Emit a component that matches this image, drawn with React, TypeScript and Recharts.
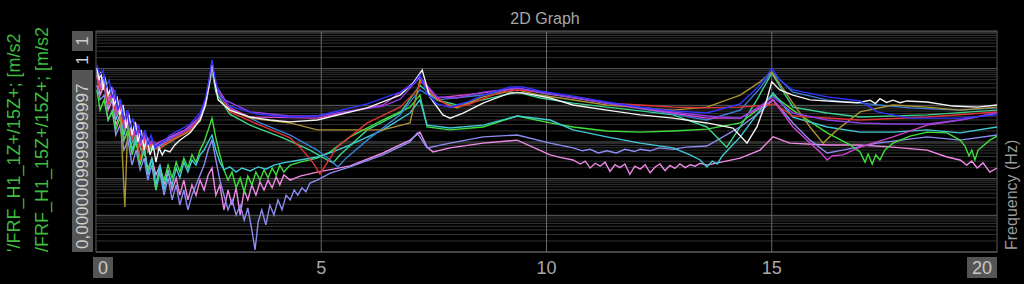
import { LineChart, Line, XAxis, YAxis, ReferenceLine } from 'recharts'

// each point: [frequency Hz, log10 of FRF magnitude]
type Pt = [number, number]

const white: Pt[] = [
  [0.02, -0.98], [0.07, -1.31], [0.11, -1.09], [0.16, -1.58], [0.2, -1.25], [0.27, -1.72], [0.33, -1.53],
  [0.4, -1.99], [0.47, -1.8], [0.53, -2.26], [0.6, -1.99], [0.67, -2.62], [0.73, -2.26], [0.8, -2.81],
  [0.87, -2.45], [0.93, -3.0], [1.0, -2.67], [1.07, -3.22], [1.13, -2.89], [1.2, -3.35], [1.27, -3.08],
  [1.33, -3.55], [1.4, -3.16], [1.47, -3.35], [1.53, -3.22], [1.64, -3.27], [1.75, -3.08], [1.86, -2.95],
  [2.09, -2.75], [2.31, -2.4], [2.42, -2.02], [2.51, -1.45], [2.575, -0.82], [2.64, -1.39], [2.71, -1.85],
  [2.97, -2.13], [3.42, -2.32], [3.86, -2.4], [4.31, -2.45], [4.91, -2.4], [6.02, -2.07], [6.75, -1.72],
  [7.04, -1.39], [7.24, -1.04], [7.41, -1.77], [7.7, -2.26], [7.86, -2.35], [8.15, -2.21], [8.59, -1.94],
  [9.19, -1.66], [9.48, -1.66], [10.08, -1.8], [10.59, -1.99], [11.34, -2.13], [12.08, -2.26], [12.81, -2.35],
  [13.56, -2.48], [14.14, -2.62], [14.45, -3.03], [14.67, -2.59], [14.89, -1.85], [15.0, -1.36], [15.18, -1.58],
  [15.47, -1.72], [15.85, -1.85], [16.58, -1.91], [16.9, -1.93], [17.18, -1.86], [17.3, -1.95], [17.4, -1.82],
  [17.55, -1.92], [17.69, -1.86], [17.85, -1.93], [18.0, -1.88], [18.45, -1.91], [19.02, -2.02], [19.56, -2.05],
  [20, -1.99],
]

const blue: Pt[] = [
  [0.02, -0.9], [0.09, -1.17], [0.16, -1.04], [0.22, -1.53], [0.29, -1.31], [0.36, -1.8], [0.42, -1.58],
  [0.49, -2.13], [0.55, -1.85], [0.62, -2.4], [0.69, -2.13], [0.75, -2.62], [0.82, -2.35], [0.89, -2.81],
  [0.95, -2.54], [1.02, -2.95], [1.09, -2.67], [1.15, -3.08], [1.22, -2.81], [1.31, -3.16], [1.42, -3.03],
  [1.53, -2.95], [1.64, -2.81], [1.86, -2.67], [2.09, -2.51], [2.31, -2.21], [2.42, -1.85], [2.51, -1.31],
  [2.575, -0.76], [2.64, -1.25], [2.75, -1.75], [2.97, -2.02], [3.57, -2.24], [4.31, -2.32], [4.91, -2.29],
  [6.02, -1.96], [6.75, -1.64], [7.04, -1.42], [7.19, -1.17], [7.35, -1.69], [7.57, -1.96], [7.86, -2.05],
  [8.24, -1.91], [8.59, -1.72], [9.19, -1.5], [9.48, -1.5], [9.86, -1.61], [10.59, -1.75], [11.34, -1.91],
  [12.08, -2.05], [12.81, -2.15], [13.56, -2.21], [14.3, -1.96], [14.67, -1.53], [14.89, -1.2], [15.0, -0.98],
  [15.18, -1.31], [15.47, -1.58], [16.23, -1.77], [16.96, -1.88], [17.34, -2.18], [18.07, -2.35], [19.18, -2.35],
  [20, -2.26],
]

const violet: Pt[] = [
  [0.02, -1.04], [0.09, -1.36], [0.18, -1.2], [0.27, -1.75], [0.36, -1.53], [0.44, -2.07], [0.53, -1.85],
  [0.62, -2.45], [0.71, -2.18], [0.8, -2.73], [0.89, -2.51], [0.98, -3.0], [1.07, -2.73], [1.15, -3.16],
  [1.24, -2.95], [1.38, -3.11], [1.53, -3.0], [1.75, -2.84], [2.09, -2.62], [2.31, -2.29], [2.44, -1.85],
  [2.575, -0.93], [2.66, -1.47], [2.86, -1.85], [3.42, -2.18], [4.31, -2.29], [4.91, -2.29], [6.37, -2.02],
  [6.75, -1.83], [7.19, -1.23], [7.57, -1.77], [8.01, -1.8], [8.59, -1.64], [9.35, -1.53], [9.86, -1.64],
  [11.34, -1.94], [12.81, -2.18], [13.56, -2.29], [14.3, -2.35], [14.74, -2.02], [15.03, -1.77], [15.47, -2.21],
  [16.23, -2.4], [16.96, -2.48], [17.69, -2.51], [18.45, -2.51], [19.18, -2.4], [20, -2.21],
]

const red: Pt[] = [
  [0.02, -1.25], [0.09, -1.58], [0.18, -1.42], [0.27, -1.96], [0.36, -1.69], [0.44, -2.26], [0.53, -2.02],
  [0.62, -2.62], [0.71, -2.35], [0.8, -2.95], [0.89, -2.67], [0.98, -3.49], [1.07, -2.95], [1.15, -3.22],
  [1.24, -3.0], [1.38, -3.22], [1.53, -3.05], [1.75, -2.89], [2.09, -2.67], [2.31, -2.35], [2.44, -1.91],
  [2.575, -0.95], [2.66, -1.53], [2.97, -2.18], [3.64, -2.54], [4.31, -2.89], [4.53, -3.14], [4.82, -3.57],
  [4.97, -3.87], [5.13, -3.57], [5.35, -3.14], [6.02, -2.48], [6.75, -2.05], [7.13, -1.58], [7.24, -1.31],
  [7.41, -1.64], [7.86, -2.05], [8.24, -1.99], [8.97, -1.64], [9.35, -1.58], [9.86, -1.64], [11.34, -1.94],
  [12.08, -1.99], [12.81, -2.05], [13.56, -2.07], [14.3, -2.05], [14.89, -1.99], [15.07, -1.96], [15.47, -2.29],
  [16.96, -2.4], [18.45, -2.32], [20, -2.18],
]

const olive: Pt[] = [
  [0.02, -1.09], [0.09, -1.47], [0.18, -1.31], [0.27, -1.85], [0.36, -1.64], [0.44, -2.18], [0.53, -1.96],
  [0.64, -4.77], [0.71, -2.4], [0.8, -2.89], [0.89, -2.62], [0.98, -3.11], [1.07, -2.84], [1.15, -3.27],
  [1.24, -3.05], [1.38, -3.22], [1.53, -3.08], [1.75, -2.92], [2.09, -2.7], [2.31, -2.37], [2.44, -1.94],
  [2.575, -0.93], [2.66, -1.5], [2.97, -2.13], [3.42, -2.35], [4.31, -2.48], [4.91, -2.67], [6.37, -2.67],
  [6.97, -2.48], [7.19, -1.31], [7.57, -1.85], [8.01, -2.07], [8.59, -1.77], [9.35, -1.58], [9.86, -1.72],
  [11.34, -1.99], [12.81, -2.13], [13.56, -2.05], [14.3, -1.72], [14.74, -1.36], [15.0, -1.09], [15.47, -1.94],
  [15.85, -2.59], [16.14, -3.03], [16.45, -2.67], [16.96, -2.18], [17.69, -1.99], [18.45, -2.05], [19.18, -2.13],
  [20, -2.05],
]

const tealGreen: Pt[] = [
  [0.02, -1.17], [0.11, -1.58], [0.2, -1.42], [0.29, -1.91], [0.38, -1.72], [0.47, -2.29], [0.55, -2.07],
  [0.64, -2.67], [0.73, -2.4], [0.82, -3.0], [0.91, -2.73], [1.0, -3.22], [1.11, -3.0], [1.24, -3.22],
  [1.42, -3.11], [1.64, -2.95], [1.98, -2.75], [2.31, -2.43], [2.44, -1.96], [2.575, -1.04], [2.66, -1.64],
  [2.97, -2.24], [3.42, -2.54], [4.15, -2.89], [4.75, -3.22], [5.13, -3.49], [5.26, -3.57], [5.42, -3.35],
  [6.02, -2.67], [6.75, -2.21], [7.19, -1.45], [7.57, -1.85], [8.01, -1.99], [8.59, -1.85], [9.35, -1.64],
  [9.86, -1.8], [10.59, -1.94], [11.34, -2.05], [12.08, -2.15], [12.81, -2.26], [13.56, -2.59], [14.0, -3.14],
  [14.3, -2.59], [14.67, -1.85], [15.0, -1.12], [15.47, -2.05], [16.23, -2.21], [16.96, -2.32], [18.45, -2.26],
  [20, -2.13],
]

const steel: Pt[] = [
  [0.02, -1.09], [0.11, -1.42], [0.2, -1.25], [0.29, -1.8], [0.38, -1.58], [0.47, -2.18], [0.55, -1.91],
  [0.64, -2.54], [0.73, -2.26], [0.82, -2.89], [0.91, -2.62], [1.0, -3.11], [1.11, -2.89], [1.24, -3.16],
  [1.42, -3.05], [1.64, -2.89], [1.98, -2.7], [2.31, -2.35], [2.44, -1.85], [2.575, -0.87], [2.66, -1.45],
  [2.97, -2.07], [3.64, -2.48], [4.31, -2.81], [4.91, -3.22], [5.2, -3.49], [5.37, -3.68], [5.55, -3.44],
  [6.02, -2.95], [6.75, -2.26], [7.19, -1.58], [7.57, -1.85], [8.59, -1.72], [9.35, -1.53], [9.86, -1.66],
  [11.34, -1.94], [12.81, -2.24], [13.56, -2.4], [14.3, -2.13], [14.74, -1.53], [15.0, -1.09], [15.47, -1.64],
  [16.23, -1.85], [16.96, -1.94], [18.07, -2.07], [19.18, -2.13], [20, -2.07],
]

const magenta: Pt[] = [
  [0.02, -1.15], [0.11, -1.53], [0.2, -1.36], [0.29, -1.85], [0.38, -1.64], [0.47, -2.24], [0.55, -1.99],
  [0.64, -2.56], [0.73, -2.29], [0.82, -2.84], [0.91, -2.56], [1.0, -3.08], [1.11, -2.81], [1.24, -3.11],
  [1.42, -3.0], [1.64, -2.86], [1.98, -2.67], [2.31, -2.32], [2.44, -1.88], [2.575, -0.9], [2.66, -1.47],
  [2.97, -2.07], [3.42, -2.32], [4.91, -2.35], [6.37, -1.99], [7.19, -1.25], [7.57, -1.8], [8.59, -1.66],
  [9.35, -1.53], [9.86, -1.64], [11.34, -1.94], [12.81, -2.21], [13.56, -2.35], [14.3, -2.35], [14.74, -2.07],
  [15.03, -1.85], [15.47, -2.59], [15.85, -3.03], [16.07, -3.27], [16.23, -3.49], [16.34, -3.38], [16.58, -3.35],
  [16.96, -3.14], [17.69, -2.86], [18.45, -2.54], [19.18, -2.4], [20, -2.21],
]

const green: Pt[] = [
  [0.02, -1.58], [0.09, -2.13], [0.18, -1.85], [0.27, -2.4], [0.36, -2.18], [0.44, -2.67], [0.53, -2.35],
  [0.62, -2.95], [0.71, -2.67], [0.8, -3.35], [0.89, -3.0], [0.98, -3.63], [1.07, -3.22], [1.15, -3.76],
  [1.24, -3.49], [1.33, -4.31], [1.42, -3.71], [1.51, -4.04], [1.6, -3.63], [1.69, -3.98], [1.78, -3.55],
  [1.86, -3.82], [1.95, -3.44], [2.04, -3.71], [2.13, -3.35], [2.22, -3.55], [2.31, -3.22], [2.4, -3.0],
  [2.49, -2.67], [2.575, -2.35], [2.66, -2.89], [2.75, -3.35], [2.84, -3.76], [2.93, -4.04], [3.02, -3.82],
  [3.11, -4.25], [3.2, -3.98], [3.29, -4.36], [3.37, -3.93], [3.46, -4.17], [3.55, -3.82], [3.64, -4.04],
  [3.73, -3.76], [3.82, -3.98], [3.91, -3.71], [4.0, -3.9], [4.08, -3.63], [4.17, -3.82], [4.31, -3.63],
  [4.53, -3.55], [4.91, -3.44], [5.2, -3.27], [5.64, -2.86], [6.37, -2.4], [6.97, -2.05], [7.19, -1.72],
  [7.35, -2.59], [7.86, -2.67], [8.59, -2.59], [9.35, -2.29], [10.08, -2.48], [10.59, -2.59], [11.34, -2.7],
  [12.08, -2.73], [12.81, -2.7], [13.56, -2.65], [14.3, -2.48], [14.74, -2.07], [15.03, -1.72], [15.47, -2.13],
  [16.23, -2.75], [16.74, -3.08], [16.96, -3.27], [17.07, -3.55], [17.14, -3.33], [17.23, -3.6], [17.31, -3.35],
  [17.4, -3.49], [17.51, -3.22], [17.69, -3.03], [18.07, -2.84], [18.45, -2.73], [18.89, -2.75], [19.18, -2.95],
  [19.29, -3.11], [19.38, -3.38], [19.44, -3.22], [19.51, -3.49], [19.58, -3.22], [19.69, -3.11], [19.84, -2.95],
  [20, -2.84],
]

const cyan: Pt[] = [
  [0.02, -1.04], [0.09, -1.53], [0.18, -1.31], [0.27, -1.99], [0.36, -1.72], [0.44, -2.4], [0.53, -2.07],
  [0.62, -2.81], [0.71, -2.4], [0.8, -3.22], [0.89, -2.89], [0.98, -3.49], [1.07, -3.08], [1.15, -3.9],
  [1.24, -3.44], [1.33, -4.17], [1.42, -3.63], [1.51, -4.31], [1.6, -3.82], [1.69, -4.17], [1.78, -3.71],
  [1.86, -3.98], [1.95, -3.55], [2.04, -3.82], [2.13, -3.49], [2.22, -3.63], [2.31, -3.35], [2.4, -3.22],
  [2.49, -3.0], [2.575, -2.81], [2.66, -3.22], [2.75, -3.55], [2.84, -3.76], [2.97, -3.68], [3.11, -3.82],
  [3.24, -3.71], [3.42, -3.79], [3.6, -3.68], [3.77, -3.74], [3.95, -3.63], [4.15, -3.57], [4.53, -3.49],
  [4.91, -3.41], [5.26, -3.27], [5.64, -3.08], [6.37, -2.67], [6.97, -2.21], [7.19, -1.85], [7.35, -2.54],
  [7.86, -2.62], [8.59, -2.54], [9.35, -2.29], [10.08, -2.4], [10.59, -2.67], [11.34, -2.86], [12.08, -3.03],
  [12.81, -3.16], [13.19, -3.35], [13.41, -3.49], [13.56, -3.68], [13.68, -3.52], [13.79, -3.6], [13.9, -3.38],
  [14.3, -2.86], [14.74, -2.13], [15.03, -1.66], [15.47, -2.32], [16.23, -2.59], [16.96, -2.73], [17.69, -2.73],
  [18.45, -2.67], [19.18, -2.75], [20, -2.59],
]

const periwinkle: Pt[] = [
  [0.02, -1.45], [0.09, -1.85], [0.18, -1.72], [0.27, -2.4], [0.36, -2.13], [0.44, -2.81], [0.53, -2.54],
  [0.62, -3.22], [0.71, -2.95], [0.8, -3.63], [0.89, -3.22], [0.98, -3.76], [1.07, -3.44], [1.15, -4.04],
  [1.24, -3.63], [1.33, -4.31], [1.42, -3.82], [1.51, -4.45], [1.6, -3.98], [1.69, -4.58], [1.78, -4.17],
  [1.86, -4.72], [1.95, -4.31], [2.04, -4.85], [2.13, -4.45], [2.22, -4.17], [2.31, -3.9], [2.4, -3.63],
  [2.49, -3.22], [2.575, -2.95], [2.66, -3.49], [2.75, -4.04], [2.84, -4.45], [2.93, -4.85], [3.02, -4.58],
  [3.11, -4.99], [3.2, -4.72], [3.29, -5.13], [3.37, -4.8], [3.46, -5.4], [3.53, -5.94], [3.6, -5.18],
  [3.68, -4.85], [3.77, -5.26], [3.86, -4.72], [3.95, -4.99], [4.04, -4.58], [4.13, -4.85], [4.22, -4.45],
  [4.31, -4.58], [4.4, -4.31], [4.48, -4.45], [4.57, -4.25], [4.66, -4.36], [4.75, -4.12], [4.91, -4.04],
  [5.2, -3.85], [5.64, -3.68], [6.37, -3.35], [6.97, -3.0], [7.13, -2.75], [7.35, -3.16], [7.86, -3.03],
  [8.59, -2.86], [9.35, -2.81], [10.08, -3.03], [10.59, -3.16], [10.8, -3.24], [10.97, -3.2], [11.15, -3.3],
  [11.34, -3.24], [11.55, -3.3], [11.74, -3.2], [11.95, -3.26], [12.08, -3.2], [12.3, -3.24], [12.5, -3.16],
  [12.81, -3.2], [13.1, -3.14], [13.56, -3.11], [14.3, -2.59], [14.74, -2.18], [15.03, -1.85], [15.47, -2.48],
  [15.85, -2.95], [16.23, -3.3], [16.58, -3.22], [17.34, -3.03], [18.45, -2.86], [19.18, -2.95], [20, -2.81],
]

const pink: Pt[] = [
  [0.02, -1.17], [0.09, -1.72], [0.18, -1.45], [0.27, -2.13], [0.36, -1.85], [0.44, -2.54], [0.53, -2.26],
  [0.62, -2.95], [0.71, -2.67], [0.8, -3.22], [0.89, -2.95], [0.98, -3.49], [1.07, -3.22], [1.15, -3.76],
  [1.24, -3.44], [1.33, -3.9], [1.42, -3.63], [1.51, -4.17], [1.6, -3.76], [1.69, -4.31], [1.78, -3.98],
  [1.86, -4.45], [1.95, -4.04], [2.04, -4.58], [2.13, -4.17], [2.22, -4.45], [2.31, -4.04], [2.4, -4.31],
  [2.49, -3.9], [2.575, -3.71], [2.66, -4.45], [2.75, -4.17], [2.84, -4.85], [2.93, -4.31], [3.02, -4.72],
  [3.11, -4.25], [3.2, -4.99], [3.29, -4.31], [3.37, -4.58], [3.46, -4.17], [3.55, -4.45], [3.64, -4.09],
  [3.73, -4.31], [3.82, -4.04], [3.91, -4.25], [4.0, -3.95], [4.08, -4.17], [4.17, -3.9], [4.31, -4.04],
  [4.53, -3.93], [4.91, -3.82], [5.64, -3.65], [6.37, -3.3], [6.97, -2.95], [7.19, -2.73], [7.35, -3.14],
  [7.48, -3.27], [7.86, -3.16], [8.59, -3.03], [9.35, -2.95], [10.08, -3.35], [10.3, -3.42], [10.59, -3.49],
  [10.75, -3.6], [10.86, -3.52], [10.97, -3.71], [11.08, -3.58], [11.19, -3.66], [11.3, -3.55], [11.41, -3.8],
  [11.52, -3.62], [11.63, -3.7], [11.74, -3.6], [11.85, -3.88], [11.96, -3.66], [12.08, -3.74], [12.19, -3.62],
  [12.3, -3.84], [12.41, -3.68], [12.52, -3.6], [12.63, -3.78], [12.74, -3.64], [12.85, -3.72], [12.96, -3.6],
  [13.08, -3.7], [13.19, -3.62], [13.3, -3.66], [13.41, -3.58], [13.56, -3.63], [14.3, -3.44], [14.74, -3.22],
  [15.03, -2.86], [15.4, -3.03], [16.23, -3.08], [16.96, -3.08], [17.69, -3.14], [18.45, -3.22], [18.89, -3.41],
  [19.18, -3.49], [19.33, -3.63], [19.44, -3.52], [19.56, -3.71], [19.69, -3.57], [19.84, -3.82], [20, -3.71],
]

const freqTicks = [0, 5, 10, 15, 20]
const decades = [-6, -5, -4, -3, -2, -1, 0]

// drawn bottom to top
const series = [
  { name: 'pink', pts: pink, color: '#ee8ae6' },
  { name: 'periwinkle', pts: periwinkle, color: '#8a8cf2' },
  { name: 'green', pts: green, color: '#3fe03c' },
  { name: 'cyan', pts: cyan, color: '#40c9d6' },
  { name: 'tealGreen', pts: tealGreen, color: '#3ed38c' },
  { name: 'steel', pts: steel, color: '#3a80d8' },
  { name: 'olive', pts: olive, color: '#a89232' },
  { name: 'red', pts: red, color: '#e03434' },
  { name: 'magenta', pts: magenta, color: '#d444cc' },
  { name: 'violet', pts: violet, color: '#8e3ee2' },
  { name: 'white', pts: white, color: '#f4f4f4' },
  { name: 'blue', pts: blue, color: '#2f34ff' },
]

const gridLines: { v: number; major: boolean }[] = []
decades.forEach((d) => {
  gridLines.push({ v: 10 ** d, major: true })
  if (d < 0) for (let k = 2; k <= 9; k++) gridLines.push({ v: k * 10 ** d, major: false })
})

const FONT = '"Liberation Sans", Arial, sans-serif'

function FreqTick(props: any) {
  const { x, payload } = props
  const v = payload.value
  const label = String(v)
  if (v === 0 || v === 20) {
    const w = label.length * 10 + 10
    const bx = v === 0 ? x - 3 : x - w
    return (
      <g>
        <rect x={bx} y={257} width={w} height={21} fill="#555" />
        <text x={bx + w / 2} y={274} textAnchor="middle" fontSize={18} fill="#c8c8c8" fontFamily={FONT}>{label}</text>
      </g>
    )
  }
  return (
    <text x={x} y={274} textAnchor="middle" fontSize={18} fill="#a8a8a8" fontFamily={FONT}>{label}</text>
  )
}

export default function App() {
  return (
    <div style={{ position: 'relative', width: 1024, height: 284, background: '#000', overflow: 'hidden' }}>
      <style>{'body{margin:0;background:#000}'}</style>
      <svg width={1024} height={284} style={{ position: 'absolute', left: 0, top: 0 }}>
        <defs>
          <clipPath id="lblclip"><rect x={0} y={28} width={70} height={240} /></clipPath>
        </defs>
        <text x={545} y={24} textAnchor="middle" fontSize={16} fill="#a8a8a8" fontFamily={FONT}>2D Graph</text>
        <g clipPath="url(#lblclip)" fontFamily={FONT} fontSize={18} fill="#3fbb3f">
          <text transform="translate(20,252) rotate(-90)">'/FRF_H1_1Z+/15Z+; [m/s2</text>
          <text transform="translate(48,252) rotate(-90)">/FRF_H1_15Z+/15Z+; [m/s2</text>
        </g>
        <rect x={72} y={31} width={21} height={20} fill="#555" />
        <text transform="translate(88,41) rotate(-90)" textAnchor="middle" fontSize={17} fill="#cfcfcf" fontFamily={FONT}>1</text>
        <text transform="translate(88,60) rotate(-90)" textAnchor="middle" fontSize={17} fill="#cfcfcf" fontFamily={FONT}>1</text>
        <rect x={72} y={70} width={21} height={182} fill="#555" />
        <text transform="translate(88,249) rotate(-90)" fontSize={17} fill="#cfcfcf" fontFamily={FONT}>0,0000009999999997</text>
        <text transform="translate(1017,250) rotate(-90)" fontSize={16} fill="#9a9a9a" fontFamily={FONT}>Frequency (Hz)</text>
        <rect x={96} y={31} width={901} height={221} fill="none" stroke="#5a5a5a" strokeWidth={1} />
      </svg>
      <div style={{ position: 'absolute', left: 0, top: 0 }}>
        <LineChart width={1024} height={284} margin={{ top: 32, right: 27, bottom: 2, left: 96 }}>
          <XAxis dataKey="f" type="number" domain={[0, 20]} ticks={freqTicks} tick={<FreqTick />}
            tickLine={false} axisLine={false} height={30} allowDataOverflow />
          <YAxis type="number" scale="log" domain={[1e-6, 1]} allowDataOverflow hide />
          {gridLines.map((g) => (
            <ReferenceLine key={g.v} y={g.v} stroke={g.major ? '#5e5e5e' : '#333'} strokeWidth={1} ifOverflow="extendDomain" />
          ))}
          {[5, 10, 15].map((f) => (
            <ReferenceLine key={'x' + f} x={f} stroke="#6a6a6a" strokeWidth={1} />
          ))}
          {series.map((s) => (
            <Line key={s.name} data={s.pts.map(([f, e]) => ({ f, v: 10 ** e }))} dataKey="v" type="linear"
              stroke={s.color} strokeWidth={1.4} dot={false} isAnimationActive={false} />
          ))}
        </LineChart>
      </div>
    </div>
  )
}
